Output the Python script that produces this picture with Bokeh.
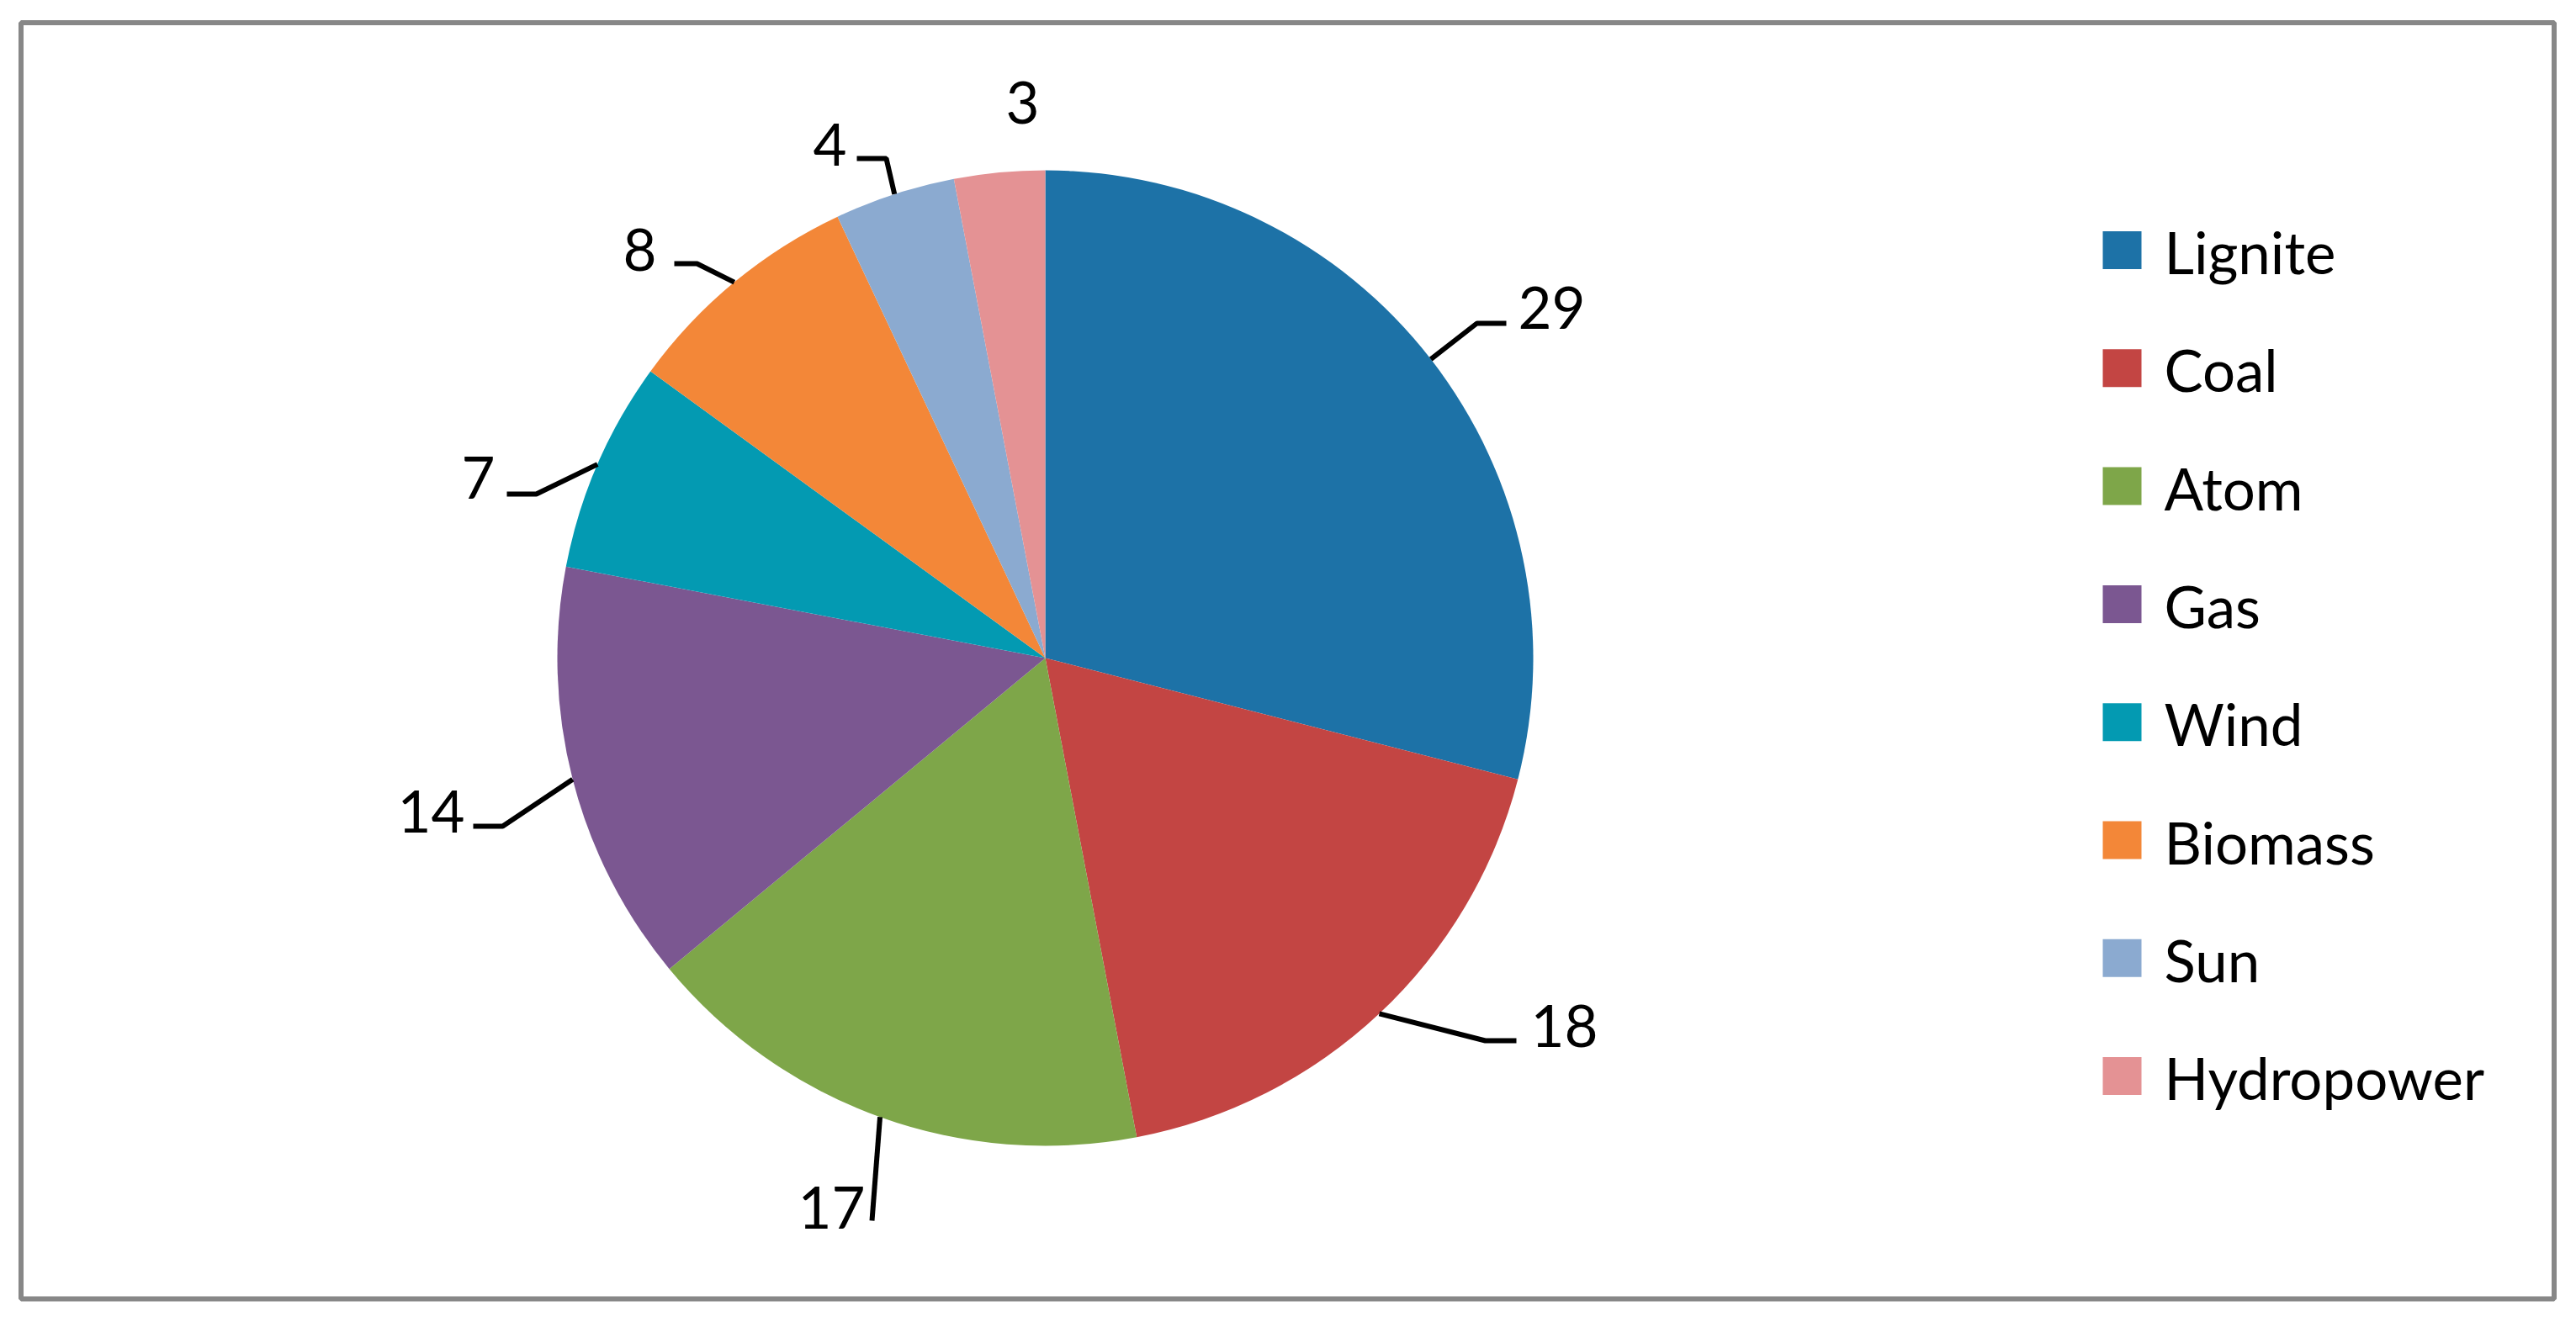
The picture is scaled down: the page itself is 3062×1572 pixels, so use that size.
import math
from bokeh.plotting import figure
from bokeh.models import Range1d
from bokeh.core.properties import value
from bokeh.embed import file_html
from bokeh.resources import INLINE

# ---- data ----
categories = ["Lignite", "Coal", "Atom", "Gas", "Wind", "Biomass", "Sun", "Hydropower"]
shares = [29, 18, 17, 14, 7, 8, 4, 3]
colors = ["#1D72A7", "#C34543", "#7EA649", "#7B5791", "#039AB2", "#F38738", "#8BAAD0", "#E49294"]

# ---- layout (screen pixel coordinates of the page) ----
W, H = 3046, 1556
CX, CY, R = 1242, 782, 580
FONT = "Lato"
FSIZE = "69px"
TXT_SHIFT = 22  # rendering offset of the text baseline
# label anchor (text centre x, baseline y) per slice
label_pos = [(1844, 387), (1859, 1241), (988, 1457), (512, 986),
             (568, 589), (760, 318), (986, 193), (1215, 143)]
# leader line points after the slice edge point
leader_pts = [[(1755, 384), (1790, 384)], [(1765, 1237), (1802, 1237)], [(1036, 1451)],
              [(597, 982), (562, 982)], [(637, 587), (602, 587)], [(828, 313), (801, 313)],
              [(1053, 188), (1018, 188)], []]


def dx(x):
    return x


def dy(y):
    return H - y


p = figure(width=W, height=H, x_range=Range1d(0, W), y_range=Range1d(0, H),
           output_backend="svg", toolbar_location=None,
           x_axis_type=None, y_axis_type=None, min_border=0,
           outline_line_color=None, background_fill_color="white",
           border_fill_color="white")
p.grid.visible = False

# chart-area border
p.quad(left=[dx(24.5)], right=[dx(3035.5)], top=[dy(26.5)], bottom=[dy(1544)],
       fill_color=None, line_color="#878787", line_width=6)

# pie wedges
total = float(sum(shares))
cum = 0.0
starts, ends, mids = [], [], []
for v in shares:
    a0 = math.pi / 2 - 2 * math.pi * cum / total
    cum += v
    a1 = math.pi / 2 - 2 * math.pi * cum / total
    starts.append(a1)
    ends.append(a0)
    mids.append((a0 + a1) / 2)

p.wedge(x=[dx(CX)] * len(shares), y=[dy(CY)] * len(shares), radius=R,
        start_angle=starts, end_angle=ends, direction="anticlock",
        fill_color=colors, line_color=None)

# leader lines
xs, ys = [], []
for m, pts in zip(mids, leader_pts):
    if not pts:
        continue
    ex = dx(CX) + R * math.cos(m)
    ey = dy(CY) + R * math.sin(m)
    xs.append([ex] + [dx(x) for x, _ in pts])
    ys.append([ey] + [dy(y) for _, y in pts])
p.multi_line(xs=xs, ys=ys, line_color="black", line_width=6)

# data labels
p.text(x=[dx(x) for x, _ in label_pos], y=[dy(y - TXT_SHIFT) for _, y in label_pos],
       text=[str(v) for v in shares], text_font=value(FONT), text_font_size=FSIZE,
       text_align="center", text_baseline="alphabetic", text_color="black")

# legend
LX, LY0, LDY = 2522, 297, 140.3
p.rect(x=[dx(LX)] * len(categories), y=[dy(LY0 + i * LDY) for i in range(len(categories))],
       width=46, height=45, fill_color=colors, line_color=None)
p.text(x=[dx(2572)] * len(categories),
       y=[dy(LY0 + i * LDY + 24 - TXT_SHIFT) for i in range(len(categories))],
       text=categories, text_font=value(FONT), text_font_size=FSIZE,
       text_align="left", text_baseline="alphabetic", text_color="black")

open("out.html", "w").write(file_html(p, INLINE))
